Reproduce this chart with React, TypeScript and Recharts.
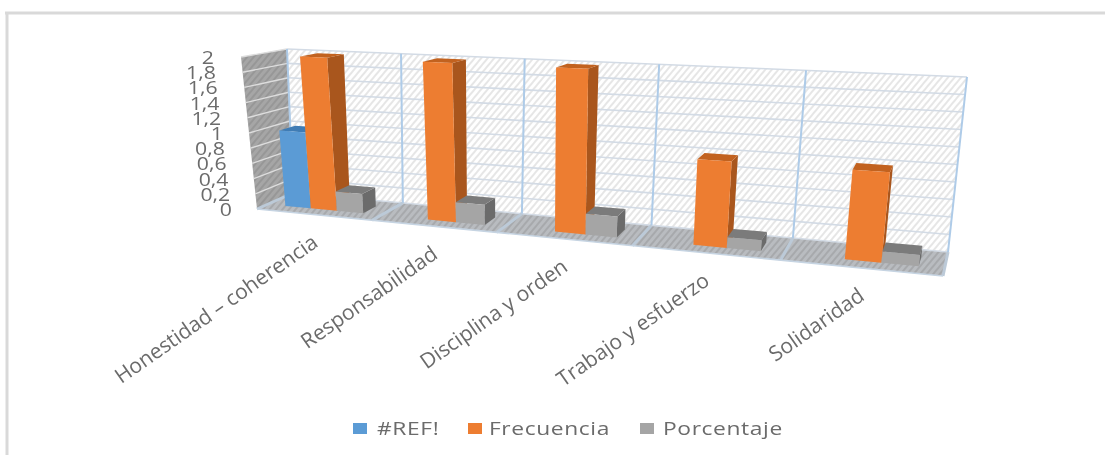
import React from "react";
import { BarChart, Bar, XAxis, YAxis, Legend } from "recharts";

const categorias = [
  "Honestidad – coherencia",
  "Responsabilidad",
  "Disciplina y orden",
  "Trabajo y esfuerzo",
  "Solidaridad",
];
const ref = [1, null, null, null, null];
const frecuencia = [2, 2, 2, 1, 1];
const porcentaje = [0.25, 0.25, 0.25, 0.125, 0.125];
const valueTicks = [0, 0.2, 0.4, 0.6, 0.8, 1, 1.2, 1.4, 1.6, 1.8, 2];

const data = categorias.map((nombre, i) => ({
  nombre,
  ref: ref[i],
  frecuencia: frecuencia[i],
  porcentaje: porcentaje[i],
}));

const WIDTH = 1105;
const HEIGHT = 455;

// flat plot rectangle, every mark goes through project() to get the 3D look
const LEFT = 250;
const RIGHT = 950;
const TOP = 50;
const BOTTOM = 250;

// corners of the 3D box on screen: [depth][v][u]
const box = [
  [
    [[293, 193], [948, 252]],
    [[287, 49], [967, 77]],
  ],
  [
    [[257, 209], [943, 276]],
    [[241, 57], [964, 88]],
  ],
];
const SHRINK = 0.194;
const BAR_FRONT = 0.7;
const BAR_BACK = 0.3;

function project(u: number, v: number, d: number) {
  let X = 0;
  let Y = 0;
  let W = 0;
  for (const di of [0, 1]) {
    for (const vi of [0, 1]) {
      for (const ui of [0, 1]) {
        const k =
          (di ? d : 1 - d) * (vi ? v : 1 - v) * (ui ? u : 1 - u);
        const w = 1 - SHRINK * ui;
        X += k * w * box[di][vi][ui][0];
        Y += k * w * box[di][vi][ui][1];
        W += k * w;
      }
    }
  }
  return [X / W, Y / W];
}

function face(points: number[][]) {
  return points.map((p) => `${p[0].toFixed(1)},${p[1].toFixed(1)}`).join(" ");
}

const toU = (x: number) => (x - LEFT) / (RIGHT - LEFT);
const toV = (y: number) => (BOTTOM - y) / (BOTTOM - TOP);

const shades: Record<string, { side: string; top: string }> = {
  "#5b9bd5": { side: "#3f74a6", top: "#3f7cb5" },
  "#ed7d31": { side: "#a9561d", top: "#c2621f" },
  "#a5a5a5": { side: "#6b6b6b", top: "#7b7b7b" },
};

function Bar3D(props: any) {
  const { x, y, width, height, fill } = props;
  if (!height || height <= 0) return null;
  const u0 = toU(x);
  const u1 = toU(x + width);
  const v0 = toV(y + height);
  const v1 = toV(y);
  const s = shades[fill];
  return (
    <g>
      <polygon
        fill={s.side}
        points={face([
          project(u1, v0, BAR_FRONT),
          project(u1, v0, BAR_BACK),
          project(u1, v1, BAR_BACK),
          project(u1, v1, BAR_FRONT),
        ])}
      />
      <polygon
        fill={s.top}
        points={face([
          project(u0, v1, BAR_FRONT),
          project(u1, v1, BAR_FRONT),
          project(u1, v1, BAR_BACK),
          project(u0, v1, BAR_BACK),
        ])}
      />
      <polygon
        fill={fill}
        points={face([
          project(u0, v0, BAR_FRONT),
          project(u1, v0, BAR_FRONT),
          project(u1, v1, BAR_FRONT),
          project(u0, v1, BAR_FRONT),
        ])}
      />
    </g>
  );
}

function Line3D({ a, b, color, w = 1 }: any) {
  return (
    <line
      x1={a[0]}
      y1={a[1]}
      x2={b[0]}
      y2={b[1]}
      stroke={color}
      strokeWidth={w}
    />
  );
}

function Hatch({ id, bg, line }: any) {
  return (
    <pattern
      id={id}
      width={5}
      height={5}
      patternUnits="userSpaceOnUse"
      patternTransform="rotate(40)"
    >
      <rect width={5} height={5} fill={bg} />
      <rect width={2} height={5} fill={line} />
    </pattern>
  );
}

// back wall, side wall and floor
function Room() {
  const divisions = categorias.map((_, i) => i / categorias.length);
  return (
    <g>
      <defs>
        <Hatch id="wallHatch" bg="#ffffff" line="#e6e6e6" />
        <Hatch id="sideHatch" bg="#a6a6a6" line="#979797" />
        <Hatch id="floorHatch" bg="#b9bcc0" line="#a7a9ac" />
      </defs>
      <line x1={5} y1={13} x2={WIDTH} y2={13} stroke="#d9d9d9" strokeWidth={3} />
      <line x1={7} y1={13} x2={7} y2={HEIGHT} stroke="#d9d9d9" strokeWidth={3} />
      <polygon
        fill="url(#wallHatch)"
        points={face([project(0, 0, 0), project(1, 0, 0), project(1, 1, 0), project(0, 1, 0)])}
      />
      <polygon
        fill="url(#sideHatch)"
        points={face([project(0, 0, 0), project(0, 0, 1), project(0, 1, 1), project(0, 1, 0)])}
      />
      <polygon
        fill="url(#floorHatch)"
        points={face([project(0, 0, 0), project(1, 0, 0), project(1, 0, 1), project(0, 0, 1)])}
      />
      {valueTicks.map((t) => {
        const v = t / 2;
        return (
          <g key={t}>
            <Line3D a={project(0, v, 0)} b={project(1, v, 0)} color="#d3dbe5" w={1.6} />
            {t > 0 && <Line3D a={project(0, v, 0)} b={project(0, v, 1)} color="#dddddd" w={1.4} />}
          </g>
        );
      })}
      {divisions.concat(1).map((u) => (
        <g key={u}>
          <Line3D a={project(u, 0, 0)} b={project(u, 1, 0)} color="#aecbe8" w={2} />
          <Line3D a={project(u, 0, 0)} b={project(u, 0, 1)} color="#bccad8" w={3} />
        </g>
      ))}
      <Line3D a={project(0, 0, 1)} b={project(1, 0, 1)} color="#c6d4e2" w={1.6} />
    </g>
  );
}

const textColor = "#6b6b6b";

function ValueTick({ y, payload }: any) {
  const v = toV(y);
  const p = project(0, v, 1);
  return (
    <text
      transform={`translate(${p[0] - 25 - 2 * v},${p[1] + 7}) scale(1.18,1)`}
      textAnchor="end"
      fontFamily="Open Sans"
      fontSize={18}
      fill={textColor}
    >
      {String(payload.value).replace(".", ",")}
    </text>
  );
}

function CategoryTick({ x, payload }: any) {
  const p = project(toU(x), 0, 1);
  return (
    <text
      transform={`translate(${p[0] + 6},${p[1] + 31}) rotate(-35)`}
      textAnchor="end"
      fontFamily="Open Sans"
      fontSize={21}
      fill={textColor}
    >
      {payload.value}
    </text>
  );
}

const legendLeft = [353, 468, 640];
const legendGap = [10, 7, 9];

function LegendBox({ payload }: any) {
  return (
    <div style={{ position: "relative", height: 30 }}>
      {(payload || []).map((item: any, i: number) => (
        <div
          key={item.value}
          style={{
            position: "absolute",
            left: legendLeft[i],
            top: 0,
            display: "flex",
            alignItems: "center",
            whiteSpace: "nowrap",
            fontFamily: "Open Sans",
            fontSize: 19,
            letterSpacing: 0.5,
            color: textColor,
          }}
        >
          <span
            style={{
              width: 14,
              height: 11,
              background: item.color,
              marginRight: legendGap[i],
            }}
          />
          <span style={{ display: "inline-block", transform: "scaleX(1.2)", transformOrigin: "left center" }}>
            {item.value}
          </span>
        </div>
      ))}
    </div>
  );
}

export default function App() {
  return (
    <div style={{ position: "absolute", left: 0, top: 0, filter: "blur(0.5px)" }}>
      <BarChart
        width={WIDTH}
        height={HEIGHT}
        data={data}
        margin={{ top: TOP, right: WIDTH - RIGHT, bottom: 5, left: LEFT - 60 }}
        barCategoryGap="16%"
        barGap={0}
      >
        <Room />
        <XAxis
          dataKey="nombre"
          height={160}
          interval={0}
          axisLine={false}
          tickLine={false}
          tick={<CategoryTick />}
        />
        <YAxis
          width={60}
          domain={[0, 2]}
          ticks={valueTicks}
          interval={0}
          axisLine={false}
          tickLine={false}
          tick={<ValueTick />}
        />
        <Legend
          height={40}
          content={<LegendBox />}
          wrapperStyle={{ left: 0, top: 415, width: WIDTH, bottom: "auto" }}
        />
        <Bar dataKey="ref" name="#REF!" fill="#5b9bd5" isAnimationActive={false} shape={(p: any) => <Bar3D {...p} />} />
        <Bar dataKey="frecuencia" name="Frecuencia" fill="#ed7d31" isAnimationActive={false} shape={(p: any) => <Bar3D {...p} />} />
        <Bar dataKey="porcentaje" name="Porcentaje" fill="#a5a5a5" isAnimationActive={false} shape={(p: any) => <Bar3D {...p} />} />
      </BarChart>
    </div>
  );
}
